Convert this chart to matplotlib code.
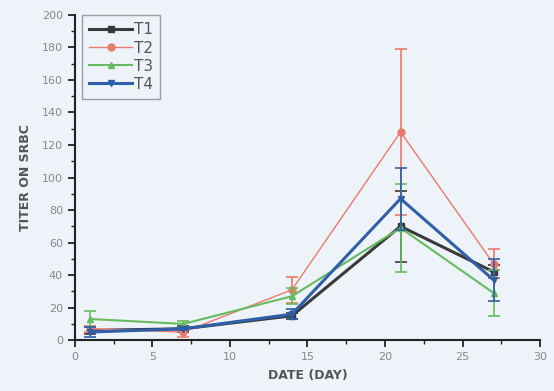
import matplotlib
matplotlib.use('Agg')
import matplotlib.pyplot as plt
from matplotlib.ticker import MultipleLocator

# Data
days = [1, 7, 14, 21, 27]
t1 = [6, 7, 15, 70, 42]
t1_err = [2, 2, 2, 22, 4]
t2 = [7, 5, 31, 128, 47]
t2_err = [2, 3, 8, 51, 9]
t3 = [13, 10, 27, 69, 29]
t3_err = [5, 2, 5, 27, 14]
t4 = [5, 7, 16, 87, 37]
t4_err = [3, 1, 3, 19, 13]

series = [
    ('T1', t1, t1_err, '#3a3a3a', 's', 2.2),
    ('T2', t2, t2_err, '#ea7a6a', 'o', 1.0),
    ('T3', t3, t3_err, '#66bb5e', '^', 1.5),
    ('T4', t4, t4_err, '#2f5fa8', 'v', 2.2),
]

bg = '#eef3fa'
fig = plt.figure(figsize=(5.54, 3.91), dpi=100, facecolor=bg)
ax = fig.add_axes([0.135, 0.13, 0.84, 0.832], facecolor=bg)

for name, vals, errs, color, marker, lw in series:
    ax.errorbar(days, vals, yerr=errs, fmt='none', ecolor=color,
                elinewidth=1.2, capsize=4, capthick=1.2)
    ax.plot(days, vals, color=color, marker=marker, markersize=5,
            linewidth=lw, label=name)

ax.set_xlim(0, 30)
ax.set_ylim(0, 200)
ax.xaxis.set_major_locator(MultipleLocator(5))
ax.xaxis.set_minor_locator(MultipleLocator(2.5))
ax.yaxis.set_major_locator(MultipleLocator(20))
ax.yaxis.set_minor_locator(MultipleLocator(10))

for side in ['top', 'right']:
    ax.spines[side].set_visible(False)
for side in ['left', 'bottom']:
    ax.spines[side].set_linewidth(1.5)
    ax.spines[side].set_color('#222222')

ax.tick_params(which='major', direction='out', length=5, width=1.3, colors='#222222',
               labelcolor='#888888', labelsize=8)
ax.tick_params(which='minor', direction='out', length=3, width=1, colors='#222222')

ax.set_xlabel('DATE (DAY)', fontsize=9, fontweight='bold', color='#555555', labelpad=5)
ax.set_ylabel('TITER ON SRBC', fontsize=9, fontweight='bold', color='#555555', labelpad=7)

leg = ax.legend(loc='upper left', bbox_to_anchor=(0.015, 1.0), fontsize=11, frameon=True,
                fancybox=False, handlelength=2.8, handletextpad=0.1, borderpad=0.5,
                labelspacing=0.2, borderaxespad=0.0)
leg.get_frame().set_edgecolor('#888888')
leg.get_frame().set_facecolor(bg)
for txt in leg.get_texts():
    txt.set_color('#555555')

fig.savefig('out.png', dpi=100, facecolor=bg)
